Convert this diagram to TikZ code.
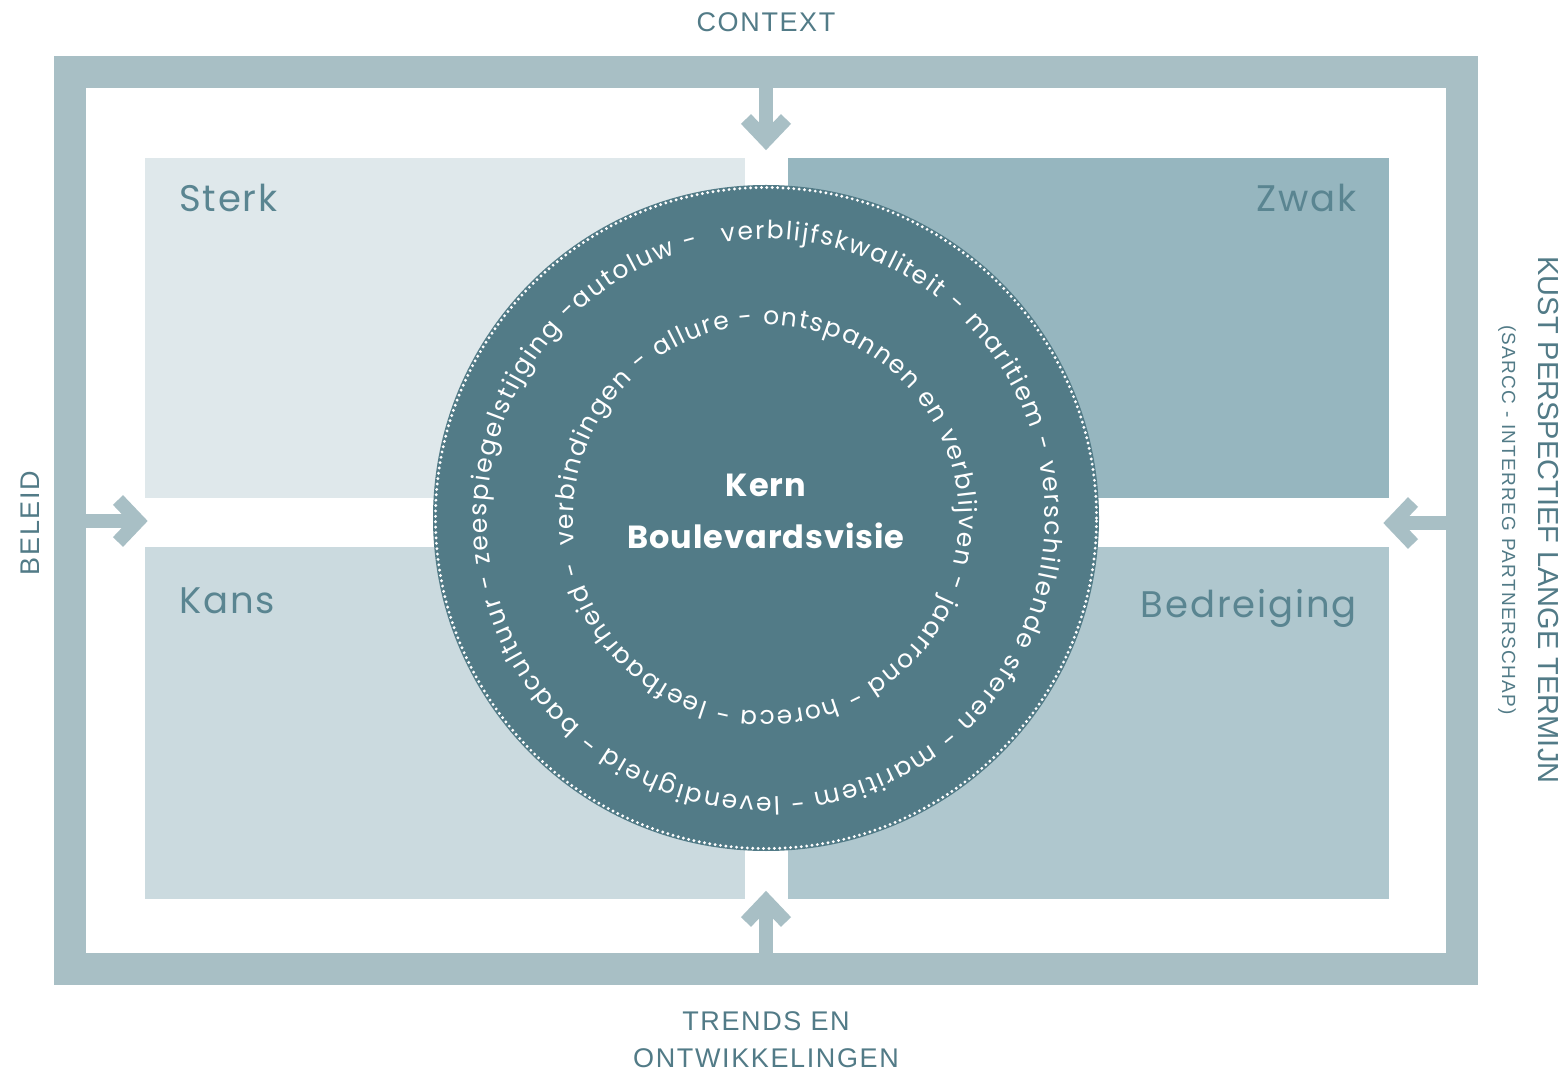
\documentclass[tikz,border=0pt]{standalone}
\usepackage{fontspec}
\setmainfont{Poppins}
\newfontfamily\capsfont[LetterSpace=6]{Liberation Sans}
\newfontfamily\sidefont{Liberation Sans}
\newfontfamily\subfont[LetterSpace=7]{Liberation Sans}
\newfontfamily\labelfont[LetterSpace=5]{Poppins}
\newfontfamily\kernfont[LetterSpace=3]{Poppins}
\newcommand\ringfont{\fontsize{25}{25}\selectfont}
\usetikzlibrary{decorations.text}
\definecolor{framec}{HTML}{A8BFC5}
\definecolor{sterkc}{HTML}{DFE8EB}
\definecolor{zwakc}{HTML}{96B6BF}
\definecolor{kansc}{HTML}{CBDADF}
\definecolor{bedrc}{HTML}{AFC7CE}
\definecolor{circlec}{HTML}{527B87}
\definecolor{labelc}{HTML}{5A8591}
\begin{document}
\begin{tikzpicture}[x=1pt,y=1pt,
  quad/.style={inner sep=0, outer sep=0, draw=none},
  qlabel/.style={inner sep=0, text=labelc, font=\labelfont\fontsize{37}{37}\selectfont},
  caps/.style={inner sep=0, text=circlec, font=\capsfont\fontsize{27}{27}\selectfont},
  shaft/.style={draw=framec, line width=14},
  chevron/.style={draw=framec, line width=14, line join=miter},
  kerntext/.style={inner sep=0, text=white, font=\kernfont\bfseries\fontsize{32}{32}\selectfont}]
\useasboundingbox (0,0) rectangle (1563,1072);
\fill[white] (0,0) rectangle (1563,1072);
% frame
\draw[framec, line width=32] (70,103) rectangle (1462,1000);
% quadrants
\node[quad, fill=sterkc, minimum width=600, minimum height=340] (sterk) at (445,744) {};
\node[quad, fill=zwakc, minimum width=601, minimum height=340] (zwak) at (1088.5,744) {};
\node[quad, fill=kansc, minimum width=600, minimum height=352] (kans) at (445,349) {};
\node[quad, fill=bedrc, minimum width=601, minimum height=352] (bedr) at (1088.5,349) {};
\node[qlabel, anchor=base west] (lsterk) at (179,860) {Sterk};
\node[qlabel, anchor=base east] (lzwak) at (1357,860) {Zwak};
\node[qlabel, anchor=base west] (lkans) at (179,458) {Kans};
\node[qlabel, anchor=base east] (lbedr) at (1357,454) {Bedreiging};
% arrows
\coordinate (topA) at (766,990); \coordinate (topV) at (766,932);
\coordinate (topL) at (746,953); \coordinate (topR) at (786,953);
\draw[shaft] (topA) -- (topV);
\draw[chevron] (topL) -- (topV) -- (topR);
\coordinate (botA) at (766,112); \coordinate (botV) at (766,171);
\coordinate (botL) at (746,150); \coordinate (botR) at (786,150);
\draw[shaft] (botA) -- (botV);
\draw[chevron] (botL) -- (botV) -- (botR);
\coordinate (lefA) at (80,551); \coordinate (lefV) at (138,551);
\coordinate (lefU) at (118,572); \coordinate (lefD) at (118,530);
\draw[shaft] (lefA) -- (lefV);
\draw[chevron] (lefU) -- (lefV) -- (lefD);
\coordinate (rigA) at (1452,549); \coordinate (rigV) at (1393,549);
\coordinate (rigU) at (1413,570); \coordinate (rigD) at (1413,528);
\draw[shaft] (rigA) -- (rigV);
\draw[chevron] (rigU) -- (rigV) -- (rigD);
% circle
\node[circle, fill=circlec, minimum size=666, inner sep=0] (kern) at (766,554) {};
\draw[white, line width=3.2, dash pattern=on 0pt off 5.4pt, line cap=round] (kern.center) circle[radius=330.5];
\path[decorate, decoration={text along path, text align={fit to path}, text color=white,
  text={|\ringfont|verblijfskwaliteit - maritiem - verschillende sferen - maritiem - levendigheid - badcultuur - zeespiegelstijging -autoluw -}}]
  ([shift={(99:279)}]kern.center) arc[start angle=99, end angle=-256, radius=279];
\path[decorate, decoration={text along path, text align={fit to path}, text color=white,
  text={|\ringfont|verbindingen - allure - ontspannen en verblijven - jaarrond - horeca - leefbaarheid -}}]
  ([shift={(188:193)}]kern.center) arc[start angle=188, end angle=-167, radius=193];
\node[kerntext, anchor=base] (kern1) at (766,575) {Kern};
\node[kerntext, anchor=base] (kern2) at (766,523) {Boulevardsvisie};
% outside labels
\node[caps, anchor=base] (context) at (766,1040) {CONTEXT};
\node[caps, anchor=base] (trends1) at (766,42) {TRENDS EN};
\node[caps, anchor=base] (trends2) at (766,5) {ONTWIKKELINGEN};
\node[caps, rotate=90] (beleid) at (30,549) {BELEID};
\node[inner sep=0, text=circlec, font=\sidefont\fontsize{29}{29}\selectfont, rotate=-90] (kust) at (1548,552) {KUST PERSPECTIEF LANGE TERMIJN};
\node[inner sep=0, text=circlec, font=\subfont\fontsize{19}{19}\selectfont, rotate=-90] (sarcc) at (1507,552) {(SARCC - INTERREG PARTNERSCHAP)};
\end{tikzpicture}
\end{document}
